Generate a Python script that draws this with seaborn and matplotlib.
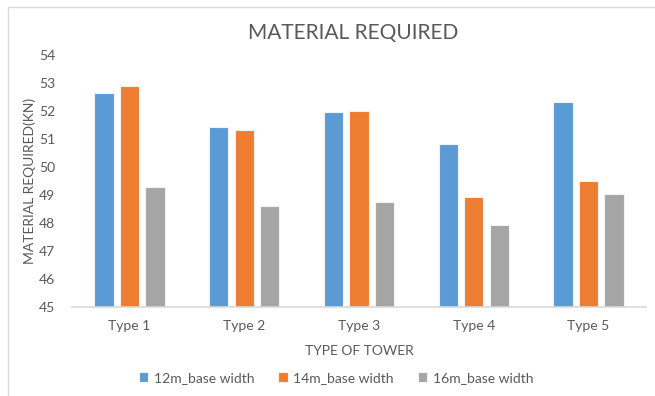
import matplotlib
matplotlib.use("Agg")
import matplotlib.pyplot as plt
import seaborn as sns
import pandas as pd
from matplotlib.patches import Rectangle

categories = ["Type 1", "Type 2", "Type 3", "Type 4", "Type 5"]
series_names = ["12m_base width", "14m_base width", "16m_base width"]
w12 = [52.65, 51.42, 51.98, 50.81, 52.31]
w14 = [52.88, 51.31, 52.01, 48.94, 49.49]
w16 = [49.30, 48.60, 48.76, 47.92, 49.05]
colors = ["#5B9BD5", "#ED7D31", "#A5A5A5"]

rows = []
for name, vals in zip(series_names, [w12, w14, w16]):
    for c, v in zip(categories, vals):
        rows.append({"Type": c, "Series": name, "Value": v})
df = pd.DataFrame(rows)

sns.set_theme(style="white")
plt.rcParams["font.family"] = ["Lato", "DejaVu Sans"]
text_col = "#595959"

fig = plt.figure(figsize=(6.55, 3.96), dpi=100)
ax = fig.add_axes([72/655, 1-307/396, (646-72)/655, (307-55)/396])

sns.barplot(data=df, x="Type", y="Value", hue="Series", palette=colors,
            hue_order=series_names, order=categories, ax=ax,
            width=0.667, gap=0.24, edgecolor="#F2F2F2", linewidth=0.8,
            errorbar=None, saturation=1)

ax.set_ylim(45, 54)
ax.set_yticks(range(45, 55))
ax.set_xlim(-0.5, 4.5)
for s in ["top", "right", "left"]:
    ax.spines[s].set_visible(False)
ax.spines["bottom"].set_color("#D9D9D9")
ax.spines["bottom"].set_linewidth(1.2)
ax.tick_params(axis="both", length=0, colors=text_col, labelsize=10)
ax.tick_params(axis="y", pad=12)
ax.tick_params(axis="x", pad=9)

ax.set_xlabel("TYPE OF TOWER", color=text_col, fontsize=10, labelpad=10)
ax.set_ylabel("MATERIAL REQUIRED(KN)", color=text_col, fontsize=10, labelpad=2)
fig.text(353/655, 1-33/396, "MATERIAL REQUIRED", ha="center", va="center",
         fontsize=15, color=text_col)

handles, labels = ax.get_legend_handles_labels()
ax.legend_.remove()
leg = fig.legend(handles, labels, loc="center", bbox_to_anchor=(336/655, 1-378/396),
                 ncol=3, frameon=False, fontsize=10, handlelength=0.7,
                 handleheight=0.7, handletextpad=0.4, columnspacing=1.7)
for t in leg.get_texts():
    t.set_color(text_col)

fig.patches.append(Rectangle((8/655, -0.01), 1.0, 1-7/396 + 0.01,
                             transform=fig.transFigure, fill=False,
                             edgecolor="#D9D9D9", linewidth=1.0))

fig.savefig("out.png", dpi=100)
